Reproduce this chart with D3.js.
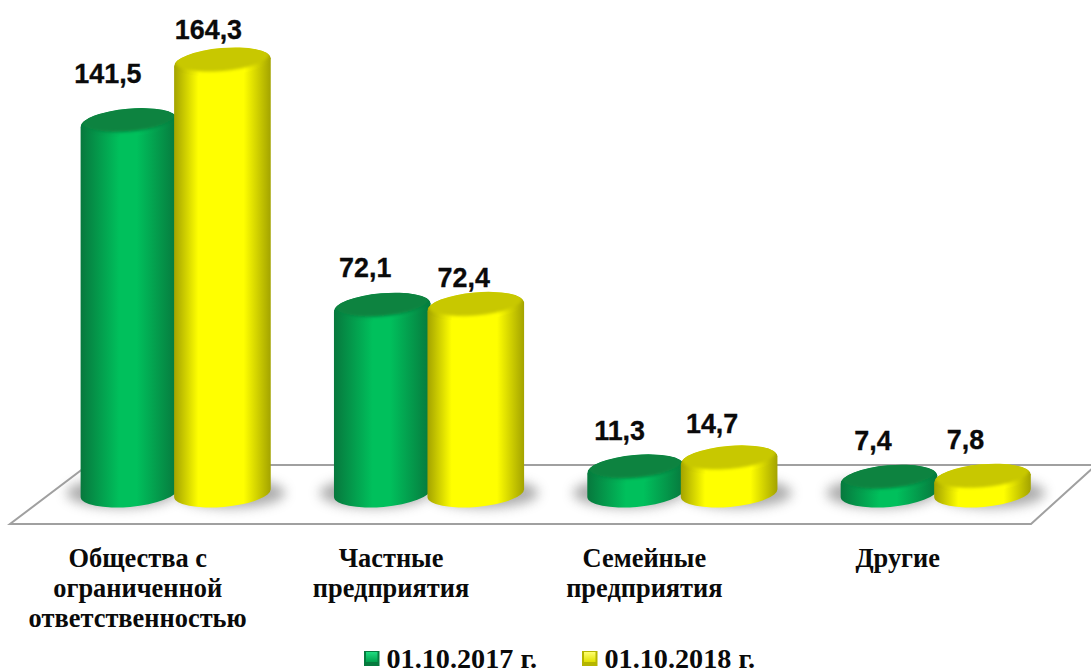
<!DOCTYPE html>
<html>
<head>
<meta charset="utf-8">
<script src="https://cdn.jsdelivr.net/npm/d3@7"></script>
<style>
  html, body { margin: 0; padding: 0; background: #fff; overflow: hidden; }
  svg { display: block; }
  .val { font: bold 26.9px "Liberation Sans", Arial, sans-serif; fill: #0a0a0a; text-anchor: middle; stroke: #0a0a0a; stroke-width: 0.3px; }
  .cat { font: bold 26.4px "Liberation Serif", "Times New Roman", serif; fill: #0a0a0a; text-anchor: middle; }
  .leg { font: bold 28.2px "Liberation Serif", "Times New Roman", serif; fill: #0a0a0a; }
</style>
</head>
<body>
<div id="chart"></div>
<script>
const categories = [
  ["Общества с", "ограниченной", "ответственностью"],
  ["Частные", "предприятия"],
  ["Семейные", "предприятия"],
  ["Другие"]
];
const seriesNames = ["01.10.2017 г.", "01.10.2018 г."];
const values2017 = [141.5, 72.1, 11.3, 7.4];
const values2018 = [164.3, 72.4, 14.7, 7.8];
const seriesValues = [values2017, values2018];

const width = 1091, height = 670;

const svg = d3.select("#chart")
  .append("svg")
    .attr("width", width)
    .attr("height", height);

const x0 = d3.scaleBand()
  .domain(d3.range(categories.length))
  .range([49, 1062.4]);

const x1 = d3.scaleBand()
  .domain(d3.range(seriesNames.length))
  .range([x0.bandwidth() / 2 - 93.5, x0.bandwidth() / 2 + 93.5]);

const y = d3.scaleLinear()
  .domain([0, 164.3])
  .range([499, 62]);

const rx = 48.5, ry = 14, tilt = -5;
const tiltRad = tilt * Math.PI / 180;
const baseY = y(0) - 6;

const fmt = v => String(v).replace(".", ",");

// gradients for the two cylinder colours
const palette = [
  {edge: "#07783d", mid: "#00c05c", top: "#07833f", stops: [0.4, 0.58]},
  {edge: "#a3a300", mid: "#ffff00", top: "#c8c800", stops: [0.25, 0.72]}
];

const defs = svg.append("defs");
palette.forEach((p, i) => {
  const g = defs.append("linearGradient").attr("id", `body${i}`);
  g.append("stop").attr("offset", "0").attr("stop-color", p.edge);
  g.append("stop").attr("offset", p.stops[0]).attr("stop-color", p.mid);
  g.append("stop").attr("offset", p.stops[1]).attr("stop-color", p.mid);
  g.append("stop").attr("offset", "1").attr("stop-color", p.edge);

  const s = defs.append("linearGradient").attr("id", `swatch${i}`)
    .attr("x1", 0).attr("x2", 0).attr("y1", 0).attr("y2", 1);
  s.append("stop").attr("offset", "0").attr("stop-color", i === 0 ? "#1fdc80" : "#ffff70");
  s.append("stop").attr("offset", "1").attr("stop-color", i === 0 ? "#00a04c" : "#e0e000");
});
defs.append("filter").attr("id", "blurShadow")
    .attr("x", "-30%").attr("y", "-80%").attr("width", "160%").attr("height", "260%")
  .append("feGaussianBlur").attr("stdDeviation", 6);
defs.append("filter").attr("id", "blurTop")
    .attr("x", "-15%").attr("y", "-35%").attr("width", "130%").attr("height", "170%")
  .append("feGaussianBlur").attr("stdDeviation", 1.4);
defs.append("clipPath").attr("id", "topClip")
  .append("ellipse").attr("rx", rx).attr("ry", ry);

// floor
const floor = d3.path();
floor.moveTo(10, 524);
floor.lineTo(1031, 524);
floor.lineTo(1096, 465);
floor.lineTo(88, 465);
floor.closePath();
svg.append("path")
  .attr("d", floor.toString())
  .attr("fill", "#fff")
  .attr("stroke", "#a0a0a0")
  .attr("stroke-width", 2);

const points = [];
categories.forEach((c, ci) => {
  seriesNames.forEach((s, si) => {
    points.push({ci, si, value: seriesValues[si][ci], cx: x0(ci) + x1(si) + x1.bandwidth() / 2});
  });
});

// shadows on the floor
svg.append("g").selectAll("ellipse")
  .data(points)
  .join("ellipse")
    .attr("cx", d => d.cx + (d.si === 0 ? -8 : 8))
    .attr("cy", baseY)
    .attr("rx", rx + 6)
    .attr("ry", ry + 1)
    .attr("fill", "#8a8a8a")
    .attr("opacity", 0.7)
    .attr("filter", "url(#blurShadow)");

const dx = rx * Math.cos(tiltRad), dy = rx * Math.sin(tiltRad);

const bars = svg.append("g").selectAll("g")
  .data(points)
  .join("g");

bars.append("path")
  .attr("fill", d => `url(#body${d.si})`)
  .attr("d", d => {
    const t = y(d.value);
    return `M${d.cx - dx},${t - dy} L${d.cx - dx},${baseY - dy}` +
      ` A${rx},${ry} ${tilt} 0 0 ${d.cx + dx},${baseY + dy}` +
      ` L${d.cx + dx},${t + dy} Z`;
  });

// top of the cylinder: dark face with a soft bright bevel along the lower edge
const tops = bars.append("g")
  .attr("transform", d => `translate(${d.cx},${y(d.value)}) rotate(${tilt})`)
  .attr("clip-path", "url(#topClip)");

tops.append("ellipse")
  .attr("rx", rx).attr("ry", ry)
  .attr("fill", d => `url(#body${d.si})`);

tops.append("ellipse")
  .attr("cy", -4.5)
  .attr("rx", rx - 1).attr("ry", ry - 0.5)
  .attr("fill", d => palette[d.si].top)
  .attr("filter", "url(#blurTop)");

// hand placed value labels, the source moved them off the bar centres
const labelLift = [[40, 23], [30, 19.5], [29, 27], [29, 29]];
const labelShift = [[-21, -14], [-17, -12], [-16, -17], [-16, -17]];

svg.append("g").selectAll("text")
  .data(points)
  .join("text")
    .attr("class", "val")
    .attr("x", d => d.cx + labelShift[d.ci][d.si])
    .attr("y", d => y(d.value) - labelLift[d.ci][d.si])
    .text(d => fmt(d.value));

// category labels
const cats = svg.append("g").selectAll("text")
  .data(categories)
  .join("text")
    .attr("class", "cat")
    .attr("data-x", (d, i) => x0(i) + x0.bandwidth() / 2 - 38);

cats.selectAll("tspan")
  .data(d => d)
  .join("tspan")
    .attr("x", function() { return d3.select(this.parentNode).attr("data-x"); })
    .attr("y", (d, i) => 567 + i * 30.2)
    .text(d => d);

// legend
const legendX = [364, 582];
const legend = svg.append("g").selectAll("g")
  .data(seriesNames)
  .join("g")
    .attr("transform", (d, i) => `translate(${legendX[i]},651)`);

legend.append("rect")
  .attr("width", 15.5).attr("height", 15)
  .attr("fill", (d, i) => i === 0 ? "#067a3e" : "#b5b500");
legend.append("rect")
  .attr("x", 2).attr("y", 1).attr("width", 11.5).attr("height", 10)
  .attr("fill", (d, i) => `url(#swatch${i})`);
legend.append("text")
  .attr("class", "leg")
  .attr("x", 22.5).attr("y", 17)
  .text(d => d);
</script>
</body>
</html>
